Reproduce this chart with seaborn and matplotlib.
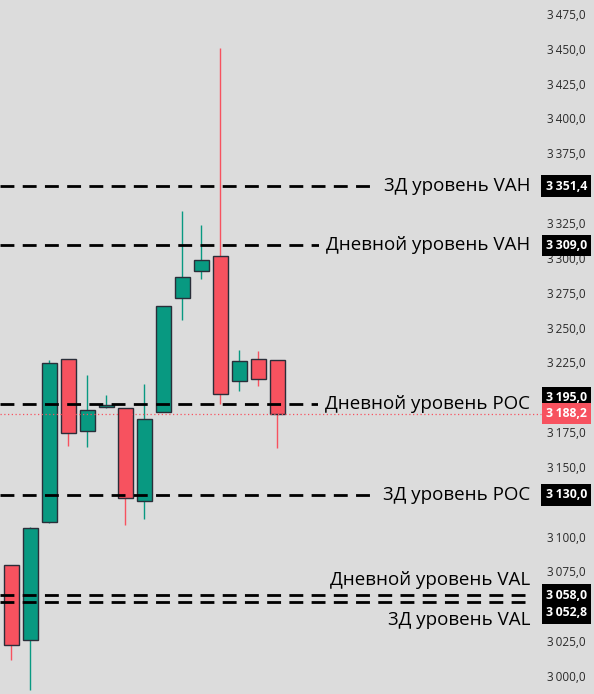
import matplotlib
matplotlib.use("Agg")
import matplotlib.pyplot as plt
import matplotlib.transforms as mtransforms
import seaborn as sns
import numpy as np

# ---------------------------------
# Data
# ---------------------------------
opens  = [3079.4, 3025.6, 3110.7, 3227.2, 3175.6, 3192.8, 3192.1, 3125.4,
          3189.2, 3271.4, 3290.8, 3301.1, 3211.9, 3227.2, 3226.5]
closes = [3022.0, 3106.0, 3224.4, 3174.1, 3190.6, 3194.5, 3127.5, 3184.4,
          3265.3, 3286.1, 3298.3, 3202.1, 3225.8, 3212.9, 3188.2]
highs  = [3080.0, 3107.0, 3226.7, 3227.5, 3216.0, 3201.6, 3192.5, 3209.5,
          3265.3, 3333.7, 3323.6, 3450.6, 3233.9, 3233.2, 3227.0]
lows   = [3011.5, 2990.0, 3110.0, 3165.0, 3164.5, 3192.5, 3108.4, 3112.9,
          3189.2, 3255.4, 3284.9, 3195.2, 3204.7, 3208.3, 3163.8]

level_values = [3351.4, 3309.0, 3195.0, 3130.0, 3058.0, 3052.8]
level_names = ["3Д уровень VAH", "Дневной уровень VAH", "Дневной уровень POC",
               "3Д уровень POC", "Дневной уровень VAL", "3Д уровень VAL"]
# label offset from its line (points) and price tag offset (points)
label_offsets = [0, 0, 0, 0, 11, -13]
tag_offsets = [0, 0, 4.5, 0, 0, -7.5]

last_price = 3188.2
y_ticks = np.arange(3000, 3476, 25)
# tick labels covered by price tags in the reference
hidden_ticks = [3350, 3200, 3125, 3050]

# ---------------------------------
# Style
# ---------------------------------
BG = "#dcdcdc"
UP = "#089981"
DOWN = "#f7525f"
BORDER = "#2a2e39"

sns.set_theme(style="white", rc={"axes.facecolor": BG, "figure.facecolor": BG})
plt.rcParams["font.family"] = ["Open Sans", "DejaVu Sans"]


def fmt(v):
    return f"{v:,.1f}".replace(",", "\u2009").replace(".", ",")


fig = plt.figure(figsize=(5.94, 6.94), dpi=100)
ax = fig.add_axes([0, 0, 1, 1])
ax.set_facecolor(BG)

x = np.arange(len(opens))
o = np.array(opens)
c = np.array(closes)
colors = [UP if cc >= oo else DOWN for oo, cc in zip(o, c)]

# wicks
ax.vlines(x, lows, highs, colors=colors, linewidth=1, zorder=2)
# bodies
ax.bar(x, np.abs(c - o), bottom=np.minimum(o, c), width=0.76,
       color=colors, edgecolor=BORDER, linewidth=1, zorder=3)

ax.set_xlim(-0.605, 30.66)
ax.set_ylim(2987.1, 3485.0)

# y axis on right, labels inside the figure
ax.yaxis.tick_right()
ax.set_yticks(y_ticks)
ax.set_yticklabels(["" if v in hidden_ticks else fmt(v) for v in y_ticks])
ax.tick_params(axis="y", length=0, pad=-6, labelsize=8.5, labelcolor="#2a2a2a")
for lab in ax.get_yticklabels():
    lab.set_horizontalalignment("right")
ax.set_xticks([])
for s in ax.spines.values():
    s.set_visible(False)

trans = mtransforms.blended_transform_factory(ax.transAxes, ax.transData)
line_end = 532 / 594
tag_x = 587 / 594

# last price dotted line (drawn above the label boxes)
ax.plot([0, 541 / 594], [last_price, last_price], transform=trans,
        color=DOWN, linestyle=(0, (1, 2)), linewidth=0.9, zorder=5.5)

# level lines, labels and tags
for val, name, loff, toff in zip(level_values, level_names, label_offsets, tag_offsets):
    ax.plot([0, line_end], [val, val], transform=trans, color="black",
            linestyle=(0, (5, 3)), linewidth=2, zorder=4)
    box = dict(facecolor=BG, edgecolor="none", pad=5) if loff == 0 else None
    ax.annotate(name, xy=(line_end - 0.003, val), xycoords=trans,
                xytext=(0, loff), textcoords="offset points",
                ha="right", va="center", fontsize=13.5, color="black",
                bbox=box, zorder=5, annotation_clip=False)
    ax.annotate(fmt(val), xy=(tag_x, val), xycoords=trans,
                xytext=(0, toff), textcoords="offset points",
                ha="right", va="center", fontsize=8.8, fontweight="bold",
                color="white", zorder=6, annotation_clip=False,
                bbox=dict(facecolor="black", edgecolor="none",
                          boxstyle="square,pad=0.35"))

# last price tag
ax.annotate(fmt(last_price), xy=(tag_x, last_price), xycoords=trans,
            ha="right", va="center", fontsize=8.8, fontweight="bold",
            color="white", zorder=7, annotation_clip=False,
            bbox=dict(facecolor=DOWN, edgecolor="none", boxstyle="square,pad=0.35"))

fig.savefig("out.png", dpi=100, facecolor=BG)
plt.close(fig)
